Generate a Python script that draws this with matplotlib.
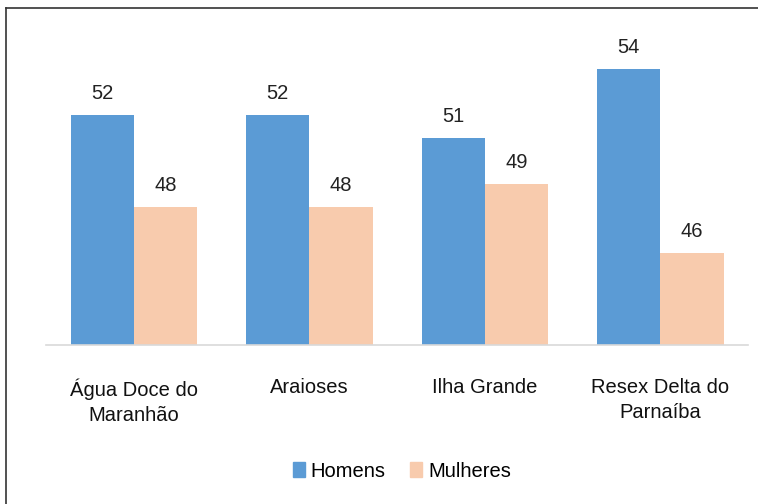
import numpy as np
import matplotlib.pyplot as plt
from matplotlib.patches import Patch
from matplotlib.lines import Line2D

plt.rcParams['font.family'] = ['Liberation Sans Narrow', 'Liberation Sans', 'DejaVu Sans']

locais = ['Água Doce do\nMaranhão', 'Araioses', 'Ilha Grande', 'Resex Delta do\nParnaíba']
homens = [52, 52, 51, 54]
mulheres = [48, 48, 49, 46]

azul = '#5B9BD5'
pessego = '#F8CBAD'

fig = plt.figure(figsize=(7.58, 5.04), dpi=100)
ax = fig.add_axes([0.0607, 0.3155, 0.9263, 0.639])

x = np.arange(len(locais))
w = 0.36
b1 = ax.bar(x - w / 2, homens, w, color=azul, label='Homens')
b2 = ax.bar(x + w / 2, mulheres, w, color=pessego, label='Mulheres')

for bars, vals in ((b1, homens), (b2, mulheres)):
    for r, v in zip(bars, vals):
        ax.text(r.get_x() + r.get_width() / 2, v + 0.5, str(v),
                ha='center', va='bottom', fontsize=14.5, color='#222222')

ax.set_xlim(-0.5, len(locais) - 0.5)
ax.set_ylim(42, 56)
ax.set_xticks(x)
ax.set_xticklabels(locais, fontsize=14.5, color='#111111', linespacing=1.4)
ax.tick_params(axis='x', length=0, pad=24)
ax.set_yticks([])
for s in ['top', 'right', 'left']:
    ax.spines[s].set_visible(False)
ax.spines['bottom'].set_color('#D9D9D9')
ax.spines['bottom'].set_linewidth(1.2)

handles = [Patch(color=azul, label='Homens'), Patch(color=pessego, label='Mulheres')]
fig.legend(handles=handles, loc='center', bbox_to_anchor=(0.53, 0.065), ncol=2,
           frameon=False, fontsize=14.5, handlelength=0.6, handleheight=0.8,
           handletextpad=0.3, columnspacing=1.2)

# moldura (só esquerda e topo visíveis)
fig.add_artist(Line2D([0.008, 0.008], [0.0, 0.984], transform=fig.transFigure,
                      color='#333333', lw=1.2))
fig.add_artist(Line2D([0.008, 1.0], [0.984, 0.984], transform=fig.transFigure,
                      color='#333333', lw=1.2))

fig.savefig('out.png', dpi=100)
